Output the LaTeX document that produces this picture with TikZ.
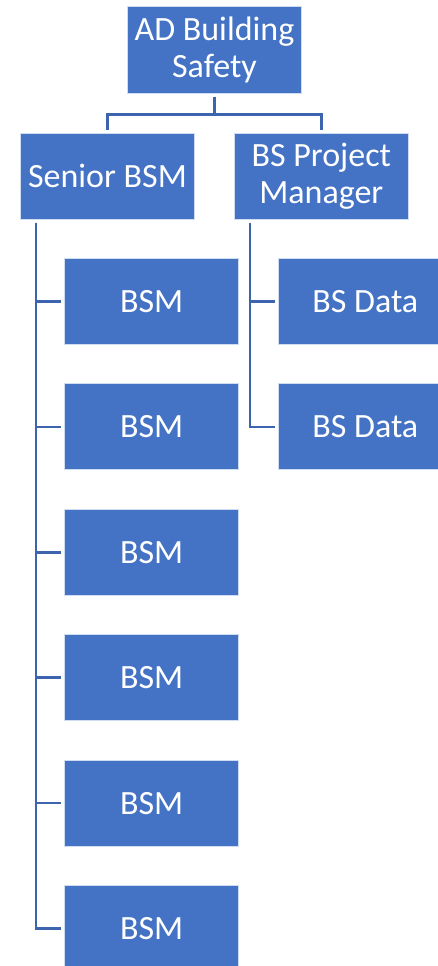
\documentclass[tikz,border=0pt]{standalone}
\usepackage{fontspec}
\setmainfont{Carlito}
\usepackage{xcolor}
\definecolor{boxblue}{HTML}{4472C4}
\definecolor{lineblue}{RGB}{60,100,175}
\def\rowstep{125.4}
\tikzset{
  orgbox/.style={fill=boxblue, draw=white!75!boxblue, line width=1pt, text=white,
    minimum width=174pt, minimum height=86pt, inner sep=0pt, align=center,
    font=\fontsize{34}{37}\selectfont},
  link/.style={draw=lineblue, line width=2.5pt, shorten <=3pt, shorten >=3pt}
}

\begin{document}
\begin{tikzpicture}[x=1pt,y=-1pt]
    \useasboundingbox (0,0) rectangle (437,966);
    \node[orgbox] (top) at (214.5,50) {AD Building\\Safety};
    \node[orgbox] (senior) at (107.5,176) {Senior BSM};
    \node[orgbox] (bspm) at (321.3,176) {BS Project\\Manager};
    \foreach \i in {1,...,6} {
      \node[orgbox] (bsm\i) at (151.7,{301.5+\rowstep*(\i-1)}) {BSM};
      \draw[link] ([xshift=16pt]senior.south west) |- (bsm\i.west);
    }
    \foreach \i in {1,2} {
      \node[orgbox] (data\i) at (365.3,{301.5+\rowstep*(\i-1)}) {BS Data};
      \draw[link] ([xshift=16pt]bspm.south west) |- (data\i.west);
    }
    \draw[link] (top.south) -- ++(0,21) -| (senior.north);
    \draw[link] (top.south) -- ++(0,21) -| (bspm.north);
\end{tikzpicture}
\end{document}
